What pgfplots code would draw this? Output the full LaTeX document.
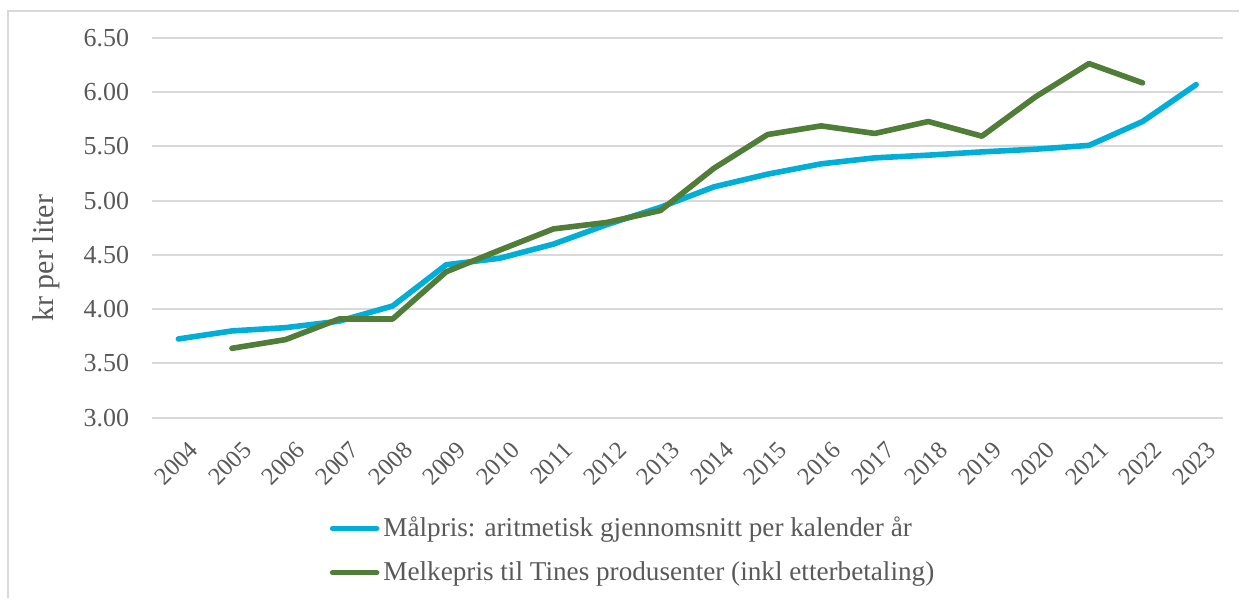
\documentclass[border=0pt]{standalone}
\usepackage{pgfplots}
\pgfplotsset{compat=1.18}
\usepackage{fontspec}
\setmainfont{Liberation Serif}
\definecolor{cblue}{RGB}{0,174,216}
\definecolor{cgreen}{RGB}{80,125,56}
\definecolor{txtgray}{RGB}{89,89,89}
\definecolor{gridgray}{RGB}{217,217,217}
\begin{document}
\begin{tikzpicture}
\path (0,0) rectangle (620pt,299pt);
\draw[gridgray, line width=0.8pt] (4pt,0pt) -- (4pt,293.5pt) -- (620pt,293.5pt);
\begin{axis}[
  at={(75.85pt,90pt)}, anchor=south west,
  scale only axis, width=536pt, height=190pt,
  xmin=-0.5, xmax=19.5, ymin=3, ymax=6.5,
  xtick={0,...,19},
  xticklabels={2004,2005,2006,2007,2008,2009,2010,2011,2012,2013,2014,2015,2016,2017,2018,2019,2020,2021,2022,2023},
  ytick={3,3.5,4,4.5,5,5.5,6,6.5},
  yticklabel style={/pgf/number format/fixed, /pgf/number format/fixed zerofill, /pgf/number format/precision=2, /pgf/number format/assume math mode=true},
  axis line style={draw=none},
  major tick length=0pt,
  ymajorgrids, grid style={gridgray, line width=1pt},
  tick label style={font=\fontsize{13}{15}\selectfont, text=txtgray},
  xticklabel style={font=\fontsize{12.3}{14}\selectfont, xshift=4.75pt, yshift=-11pt, rotate=45, anchor=north east, inner sep=0pt},
  yticklabel style={anchor=east, inner sep=0pt, xshift=-11pt},
  ylabel={kr per liter},
  ylabel style={at={(rel axis cs:-0.098,0.42)}, anchor=center, font=\fontsize{15}{17}\selectfont, text=txtgray},
  legend style={at={(rel axis cs:0.166,-0.25)}, anchor=north west, draw=none, fill=none,
    font=\fontsize{13.6}{15}\selectfont, text=txtgray, row sep=7pt, inner sep=0pt},
  legend cell align=left,
  legend image code/.code={\draw[#1, line cap=round] (0pt,0pt) -- (22pt,0pt);},
]
\addplot[cblue, line width=2.8pt, line join=round, line cap=round] coordinates {
(0,3.726) (1,3.80) (2,3.83) (3,3.89) (4,4.03) (5,4.41) (6,4.47) (7,4.60) (8,4.78) (9,4.94)
(10,5.128) (11,5.245) (12,5.34) (13,5.395) (14,5.42) (15,5.45) (16,5.475) (17,5.51) (18,5.73) (19,6.07)};
\addlegendentry{Målpris: aritmetisk gjennomsnitt per kalender år}
\addplot[cgreen, line width=2.8pt, line join=round, line cap=round] coordinates {
(1,3.64) (2,3.72) (3,3.91) (4,3.91) (5,4.345) (6,4.545) (7,4.74) (8,4.80) (9,4.91)
(10,5.30) (11,5.61) (12,5.69) (13,5.62) (14,5.73) (15,5.595) (16,5.957) (17,6.264) (18,6.086)};
\addlegendentry{Melkepris til Tines produsenter (inkl etterbetaling)}
\end{axis}
\end{tikzpicture}
\end{document}
